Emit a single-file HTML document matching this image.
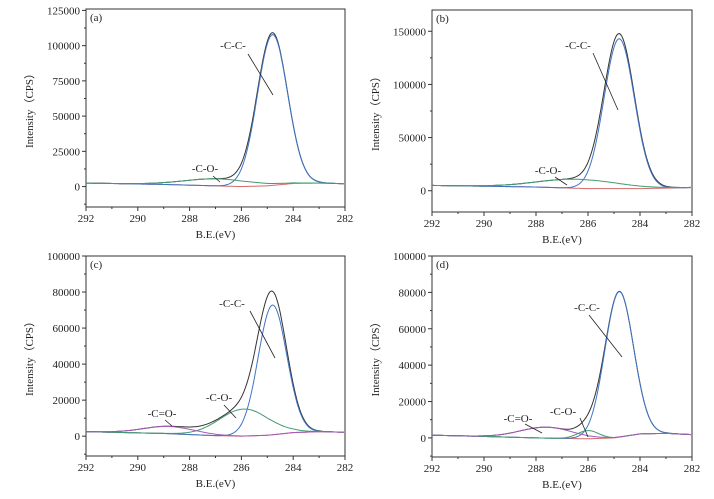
<!DOCTYPE html><html><head><style>body{margin:0;background:#fff}svg{display:block}text{font-family:"Liberation Serif",serif;font-size:11px;fill:#222}</style></head><body>
<svg id="s" width="714" height="499" xmlns="http://www.w3.org/2000/svg" font-family="Liberation Serif, serif"></svg>
<script>
const S=document.getElementById('s');let h='';
function g(x,c,a,s){return a*Math.exp(-0.5*((x-c)/s)**2);}
function lerp(pts,x){for(let i=0;i<pts.length-1;i++){const[a,b]=pts[i],[c,d]=pts[i+1];if(x<=a&&x>=c)return b+(d-b)*(x-a)/(c-a);}return pts[pts.length-1][1];}
function panel(P){
 const{x0,x1,yT,yB,vT,vB,ticks,lab}=P;
 const X=e=>x0+(292-e)/10*(x1-x0), Y=v=>yB-(v-vB)/(vT-vB)*(yB-yT);
 h+=`<rect x="${x0}" y="${yT}" width="${x1-x0}" height="${yB-yT}" fill="none" stroke="#333" stroke-width="1"/>`;
 for(let e=292;e>=282;e-=2){h+=`<line x1="${X(e)}" y1="${yB}" x2="${X(e)}" y2="${yB+4}" stroke="#333"/><text x="${X(e)}" y="${yB+15}" text-anchor="middle">${e}</text>`;}
 for(let e=291;e>=283;e-=2)h+=`<line x1="${X(e)}" y1="${yB}" x2="${X(e)}" y2="${yB+2}" stroke="#333"/>`;
 ticks.forEach(t=>{h+=`<line x1="${x0-4}" y1="${Y(t)}" x2="${x0}" y2="${Y(t)}" stroke="#333"/><text x="${x0-6}" y="${Y(t)+4}" text-anchor="end">${t}</text>`;const m=t+(ticks[1]-ticks[0])/2;if(Y(m)>yT)h+=`<line x1="${x0-2}" y1="${Y(m)}" x2="${x0}" y2="${Y(m)}" stroke="#333"/>`;});
 const m2=ticks[0]-(ticks[1]-ticks[0])/2;if(Y(m2)<yB)h+=`<line x1="${x0-2}" y1="${Y(m2)}" x2="${x0}" y2="${Y(m2)}" stroke="#333"/>`;
 h+=`<text x="${(x0+x1)/2}" y="${yB+31}" text-anchor="middle">B.E.(eV)</text>`;
 h+=`<text transform="translate(${x0-53},${(yT+yB)/2}) rotate(-90)" text-anchor="middle">Intensity（CPS）</text>`;
 h+=`<text x="${x0+4}" y="${yT+12}">${lab}</text>`;
 const B=e=>lerp(P.bg,e);
 const comps=P.comps;
 function path(f,col){let d='';for(let e=292;e>=282;e-=0.05){d+=(d?'L':'M')+X(e).toFixed(1)+','+Y(f(e)).toFixed(1);}h+=`<path d="${d}" fill="none" stroke="${col}" stroke-width="1"/>`;}
 path(e=>B(e)+comps.reduce((s,c)=>s+g(e,c[0],c[1],c[2]),0),'#333');
 path(B,'#d46a6a');
 comps.forEach(c=>path(e=>B(e)+g(e,c[0],c[1],c[2]),c[3]));
 P.ann.forEach(a=>{h+=`<text x="${a[0]}" y="${a[1]}" text-anchor="middle">${a[2]}</text><line x1="${a[3]}" y1="${a[4]}" x2="${a[5]}" y2="${a[6]}" stroke="#222" stroke-width="0.8"/>`;});
}
const BL='#3f74c4',GR='#3f9c6e',PU='#a457b8';
panel({x0:86,x1:345,yT:9,yB:207,vT:126000,vB:-14500,ticks:[0,25000,50000,75000,100000,125000],lab:'(a)',
 bg:[[292,2500],[289,1500],[287,500],[286,0],[285,500],[284,2200],[283,2500],[282,2000]],
 comps:[[284.8,107000,0.58,BL],[286.9,5000,1.3,GR]],
 ann:[[233,49,'-C-C-',248,54,273,95],[205,172,'-C-O-',213,176,220,182]]});
panel({x0:432,x1:692,yT:10,yB:212,vT:170000,vB:-20000,ticks:[0,50000,100000,150000],lab:'(b)',
 bg:[[292,5000],[288,3500],[286,2000],[284,2000],[283,2500],[282,3000]],
 comps:[[284.8,141000,0.58,BL],[286.4,8500,1.5,GR]],
 ann:[[578,49,'-C-C-',593,53,618,110],[548,174,'-C-O-',555,177,567,185]]});
panel({x0:86,x1:345,yT:256,yB:456,vT:100000,vB:-11000,ticks:[0,20000,40000,60000,80000,100000],lab:'(c)',
 bg:[[292,2500],[289,1500],[287,300],[286,0],[285,500],[284,2000],[283,2500],[282,2200]],
 comps:[[284.8,72000,0.55,BL],[285.9,15000,0.95,GR],[288.8,4000,1.0,PU]],
 ann:[[232,307,'-C-C-',250,311,275,358],[219,401,'-C-O-',224,405,236,418],[162,417,'-C=O-',165,420,172,426]]});
panel({x0:432,x1:692,yT:256,yB:457,vT:100000,vB:-10500,ticks:[0,20000,40000,60000,80000,100000],lab:'(d)',
 bg:[[292,1500],[290,800],[288,0],[286,-500],[285,0],[284,2200],[283,2500],[282,1800]],
 comps:[[284.8,80000,0.55,BL],[286.0,4500,0.4,GR],[287.6,6000,1.0,PU]],
 ann:[[587,311,'-C-C-',589,315,622,357],[563,415,'-C-O-',580,418,588,437],[518,422,'-C=O-',525,424,542,433]]});
S.innerHTML=h;
</script></body></html>
